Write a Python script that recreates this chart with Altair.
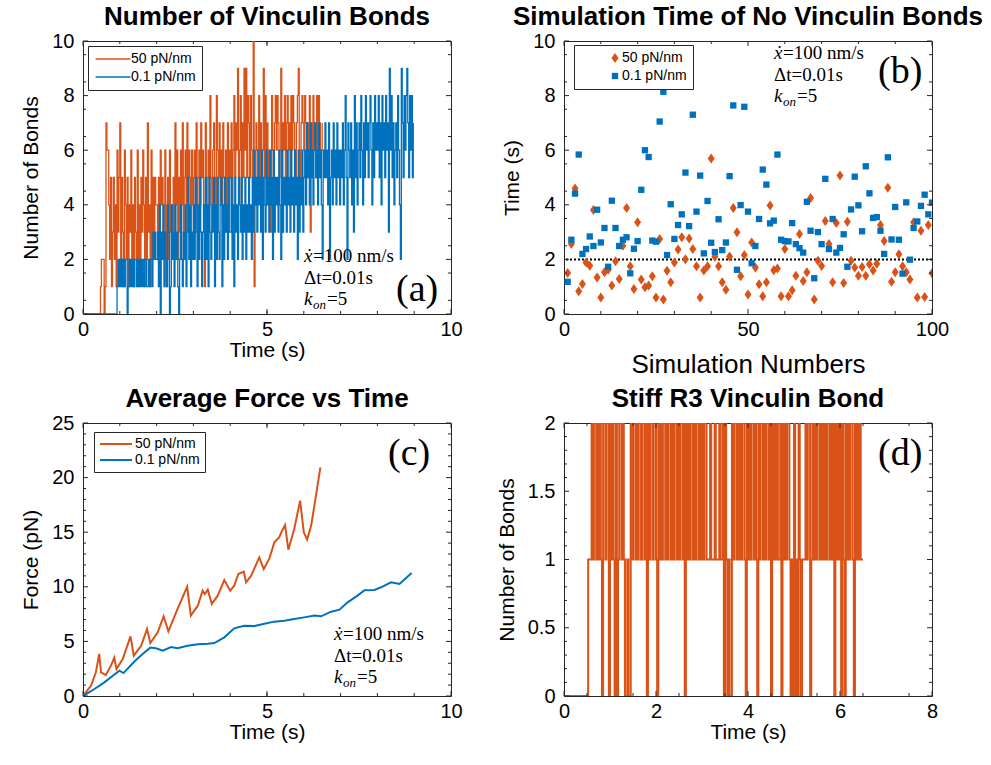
import altair as alt
import pandas as pd

ORANGE = "#D95319"
BLUE = "#0072BD"
INK = "#262626"
FONT = "Liberation Sans"
SERIF = "Liberation Serif"
W, H = 368, 273
SERIES = ["50 pN/nm", "0.1 pN/nm"]

# ---------- (a) number of vinculin bonds, one hex digit per 0.025 s sample ----------
DT = 0.025
BONDS_50 = (
    "0000000000000000000" "122201" "766425135241635"
    "7253164251" "4362415326" "1425364152" "7341625354"
    "4253645236" "1452634253" "7462536472" "5637465364"
    "5647356475" "6417356485" "4675386574" "6475364756"
    "5746857695" "6847596958" "75865a1476" "6857469584"
    "7564386578" "6875693768" "5786758687" "6578965787"
    "687576837586758687567"
)
BONDS_01 = (
    "0000000000" "0000000000" "0000000000" "0000000121"
    "2121212201" "2121212212" "1212121221" "1212213232"
    "2314032413" "2143014231" "4231024213" "2413524132"
    "4253142531" "3425241532" "4351425324" "5142534253"
    "3524153425" "4352435243" "5342536453" "6453625436"
    "4536452635" "4536426354" "5364536453" "6452635463"
    "5647564756" "4675647564" "2657564725" "6475647564"
    "6574685276" "5746385746" "7586475867" "5786475867"
    "6857486758" "6739685746" "7586429758" "6897586857"
)

# ---------- (b) simulation time with no vinculin bonds ----------
SIM_NO = list(range(1, 101))
TIME_50 = [1.50, 2.56, 4.60, 0.83, 1.10, 1.89, 1.77, 3.81, 1.34, 0.60,
           1.53, 1.62, 1.04, 1.93, 1.28, 2.50, 3.88, 1.75, 0.92, 3.36,
           1.26, 0.98, 1.04, 1.38, 0.60, 2.75, 0.53, 1.58, 1.16, 1.89,
           2.36, 2.81, 2.01, 2.77, 2.38, 1.75, 0.60, 1.59, 1.75, 5.70,
           2.10, 1.75, 1.16, 0.89, 2.11, 3.88, 2.99, 1.38, 2.16, 0.71,
           2.62, 1.70, 1.09, 0.65, 1.16, 3.97, 1.60, 1.67, 0.65, 2.38,
           0.65, 0.87, 1.40, 2.93, 1.21, 1.53, 4.25, 0.53, 1.95, 1.76,
           3.41, 2.56, 1.16, 3.33, 5.07, 1.14, 3.38, 1.95, 1.70, 1.40,
           1.72, 1.40, 1.82, 1.59, 1.84, 3.26, 2.67, 4.62, 1.18, 1.53,
           2.19, 1.75, 1.53, 1.26, 3.36, 0.60, 3.05, 0.62, 3.26, 1.49]
TIME_01 = [1.18, 2.72, 4.41, 5.84, 2.20, 2.38, 2.84, 2.49, 3.82, 2.62,
           3.15, 1.73, 4.15, 3.15, 2.49, 2.72, 2.81, 1.49, 2.39, 2.67,
           4.55, 6.00, 5.75, 2.69, 2.65, 7.05, 8.14, 2.16, 4.02, 2.75,
           3.26, 3.65, 5.18, 3.22, 7.30, 3.75, 5.07, 2.22, 4.14, 2.61,
           2.27, 3.47, 2.34, 2.62, 5.05, 7.64, 1.62, 3.99, 7.59, 3.75,
           1.86, 2.49, 3.48, 5.29, 4.74, 3.32, 3.42, 5.84, 2.72, 2.67,
           2.66, 3.33, 2.56, 2.41, 2.25, 4.11, 3.05, 1.31, 3.00, 2.56,
           4.95, 2.38, 3.48, 2.25, 2.42, 2.92, 1.73, 3.83, 5.03, 3.98,
           3.03, 5.41, 4.42, 3.52, 3.55, 3.05, 2.20, 5.74, 2.73, 3.92,
           2.72, 1.48, 4.09, 1.99, 3.15, 3.39, 3.96, 4.37, 3.65, 4.08]
THRESHOLD = [2.0]

# ---------- (c) average force vs time ----------
T_F50 = [0.00, 0.22, 0.35, 0.44, 0.49, 0.62, 0.76, 0.85, 0.91, 1.08, 1.29, 1.38,
         1.58, 1.74, 1.83, 2.03, 2.19, 2.32, 2.57, 2.83, 2.93, 3.12, 3.25, 3.31,
         3.39, 3.50, 3.66, 3.84, 4.00, 4.11, 4.22, 4.37, 4.43, 4.57, 4.79, 4.91,
         5.06, 5.20, 5.33, 5.41, 5.49, 5.58, 5.74, 5.90, 6.00, 6.09, 6.20, 6.33, 6.45]
F_50 = [0.00, 0.95, 2.17, 3.85, 2.17, 1.92, 2.78, 3.50, 2.47, 3.39, 5.46, 3.69,
        4.60, 6.13, 4.85, 5.83, 7.30, 5.92, 7.97, 10.0, 7.36, 8.27, 9.65, 9.34,
        9.74, 8.43, 9.19, 10.62, 9.65, 10.10, 11.17, 11.39, 10.41, 11.02, 12.70, 11.63,
        12.55, 14.07, 14.53, 15.14, 15.66, 13.40, 15.29, 17.89, 14.99, 14.32, 15.60, 18.35, 20.94]
T_F01 = [0.00, 0.31, 0.58, 0.81, 0.99, 1.10, 1.39, 1.62, 1.83, 1.98, 2.17, 2.39,
         2.57, 2.84, 3.12, 3.39, 3.57, 3.84, 4.11, 4.38, 4.66, 4.93, 5.20, 5.47,
         5.74, 6.01, 6.29, 6.47, 6.74, 6.97, 7.19, 7.46, 7.65, 7.92, 8.14, 8.37,
         8.60, 8.93]
F_01 = [0.00, 0.64, 1.25, 1.86, 2.32, 2.10, 3.14, 3.85, 4.43, 4.37, 4.15, 4.49,
        4.37, 4.61, 4.73, 4.79, 4.85, 5.37, 6.20, 6.44, 6.41, 6.62, 6.81, 6.90,
        7.05, 7.20, 7.36, 7.30, 7.72, 7.91, 8.58, 9.19, 9.68, 9.71, 10.01, 10.41,
        10.26, 11.26]

# ---------- (d) stiff R3 vinculin bond, one digit per 0.025 s sample ----------
BONDS_R3 = (
    "000000000000000000000" "111" "2122121210221220"
    "2121" "0201" "22121" "00100" "212212" "12212212" "0" "2122122"
    "1" "0" "21212212122121221212212" "0" "21212212122121"
    "21221" "112111211121" "12" "0" "21" "0100" "212212121221" "0" "2"
    "12122121" "0" "21221212212" "0" "21212112" "0" "2121221" "010"
    "2010210" "111" "2122" "0" "12121221212121221212" "0" "2121"
    "202102121221021212111"
)


def steps(code, label):
    vals = [int(c, 16) for c in code]
    return pd.DataFrame({"x": [i * DT for i in range(len(vals))], "y": vals, "series": label})


def tick_layers(xmaj, xmin, ymaj, ymin, big=5, small=3):
    out = []
    for vals, ln in ((xmaj, big), (xmin, small)):
        base = alt.Chart(pd.DataFrame({"x": vals})).mark_rule(color=INK, strokeWidth=1)
        out.append(base.encode(x="x:Q", y=alt.value(H), y2=alt.value(H - ln)))
        out.append(base.encode(x="x:Q", y=alt.value(0), y2=alt.value(ln)))
    for vals, ln in ((ymaj, big), (ymin, small)):
        base = alt.Chart(pd.DataFrame({"y": vals})).mark_rule(color=INK, strokeWidth=1)
        out.append(base.encode(y="y:Q", x=alt.value(0), x2=alt.value(ln)))
        out.append(base.encode(y="y:Q", x=alt.value(W - ln), x2=alt.value(W)))
    return out


def txt(s, x, y, size=19, style="normal"):
    return alt.Chart(pd.DataFrame({"k": [0]})).mark_text(
        align="left", baseline="alphabetic", font=SERIF, fontSize=size,
        fontStyle=style, color="black"
    ).encode(x=alt.value(x), y=alt.value(y), text=alt.value(s))


def annot(x, y, lh=21.5):
    """x-dot / Delta t / k_on lines, y is the first baseline."""
    return [
        txt("ẋ", x, y, style="italic"),
        txt("=100 nm/s", x + 9, y),
        txt("Δt=0.01s", x, y + lh),
        txt("k", x, y + 2 * lh, style="italic"),
        txt("on", x + 9, y + 2 * lh + 4, size=13, style="italic"),
        txt("=5", x + 23, y + 2 * lh),
    ]


def tag(s, x, y):
    return txt(s, x, y, size=38)


FMT = ".1~f"


def line_legend(lx, ly, sw, path, size, soff, loff, rowpad=4, pad=6):
    return alt.Legend(title=None, orient="none", legendX=lx, legendY=ly, direction="vertical",
                      strokeColor=INK, fillColor="white", padding=pad, rowPadding=rowpad,
                      symbolType=path, symbolSize=size, symbolStrokeWidth=sw,
                      symbolOffset=soff, labelOffset=loff,
                      labelFont=FONT, labelFontSize=14, labelColor="black")


COLOR_SCALE = alt.Scale(domain=SERIES, range=[ORANGE, BLUE])
SHAPE_SCALE = alt.Scale(domain=SERIES, range=["M0,-1L0.7,0L0,1L-0.7,0Z", "square"])
SIZE_SCALE = alt.Scale(domain=SERIES, range=[100, 40])

# ---------- panel (a) ----------
df_a = pd.concat([steps(BONDS_50, SERIES[0]), steps(BONDS_01, SERIES[1])], ignore_index=True)
lines_a = alt.Chart(df_a).mark_line(interpolate="step-after", strokeWidth=1.3, clip=True).encode(
    x=alt.X("x:Q", scale=alt.Scale(domain=[0, 10], nice=False),
            axis=alt.Axis(values=[0, 5, 10], title="Time (s)", format=FMT)),
    y=alt.Y("y:Q", scale=alt.Scale(domain=[0, 10], nice=False),
            axis=alt.Axis(values=[0, 2, 4, 6, 8, 10], title="Number of Bonds", format=FMT)),
    color=alt.Color("series:N", scale=COLOR_SCALE, sort=SERIES,
                    legend=line_legend(5, 5, 1.3, "M-4,0H4", 76, 12, 11)),
)
panel_a = alt.layer(
    lines_a, *tick_layers([0, 5, 10], list(range(1, 10)), [0, 2, 4, 6, 8, 10], [x / 2 for x in range(1, 20, 2)]),
    *annot(221, 221), tag("(a)", 313, 260),
).properties(width=W, height=H, title="Number of Vinculin Bonds")

# ---------- panel (b) ----------
df_b = pd.concat([
    pd.DataFrame({"x": SIM_NO, "y": TIME_50, "series": SERIES[0]}),
    pd.DataFrame({"x": SIM_NO, "y": TIME_01, "series": SERIES[1]}),
], ignore_index=True)
pts_b = alt.Chart(df_b).mark_point(filled=True, opacity=1, clip=True).encode(
    x=alt.X("x:Q", scale=alt.Scale(domain=[0, 100], nice=False),
            axis=alt.Axis(values=[0, 50, 100], title="Simulation Numbers", format=FMT,
                          titleFontSize=26, titlePadding=12)),
    y=alt.Y("y:Q", scale=alt.Scale(domain=[0, 10], nice=False),
            axis=alt.Axis(values=[0, 2, 4, 6, 8, 10], title="Time (s)", format=FMT)),
    color=alt.Color("series:N", scale=COLOR_SCALE, sort=SERIES,
                    legend=alt.Legend(title=None, orient="none", legendX=10, legendY=4, direction="vertical",
                                      strokeColor=INK, fillColor="white", padding=6, rowPadding=4,
                                      symbolOffset=28, labelOffset=0,
                                      labelFont=FONT, labelFontSize=14, labelColor="black")),
    shape=alt.Shape("series:N", sort=SERIES, scale=SHAPE_SCALE),
    size=alt.Size("series:N", sort=SERIES, scale=SIZE_SCALE),
)
thr = alt.Chart(pd.DataFrame({"y": THRESHOLD})).mark_rule(
    color="black", strokeWidth=2, strokeDash=[2, 2]).encode(y="y:Q")
panel_b = alt.layer(
    thr, pts_b,
    *tick_layers([0, 50, 100], [10, 20, 30, 40, 60, 70, 80, 90], [0, 2, 4, 6, 8, 10], [x / 2 for x in range(1, 20, 2)]),
    *annot(210, 18), tag("(b)", 314, 42),
).properties(width=W, height=H, title="Simulation Time of No Vinculin Bonds")

# ---------- panel (c) ----------
df_c = pd.concat([
    pd.DataFrame({"x": T_F50, "y": F_50, "series": SERIES[0]}),
    pd.DataFrame({"x": T_F01, "y": F_01, "series": SERIES[1]}),
], ignore_index=True)
lines_c = alt.Chart(df_c).mark_line(strokeWidth=2, clip=True).encode(
    x=alt.X("x:Q", scale=alt.Scale(domain=[0, 10], nice=False),
            axis=alt.Axis(values=[0, 5, 10], title="Time (s)", format=FMT)),
    y=alt.Y("y:Q", scale=alt.Scale(domain=[0, 25], nice=False),
            axis=alt.Axis(values=[0, 5, 10, 15, 20, 25], title="Force (pN)", format=FMT)),
    color=alt.Color("series:N", scale=COLOR_SCALE, sort=SERIES,
                    legend=line_legend(11, 9, 2, "M-4,0H4", 64, 10, 12, rowpad=2, pad=5)),
)
panel_c = alt.layer(
    lines_c, *tick_layers([0, 5, 10], list(range(1, 10)), [0, 5, 10, 15, 20, 25],
                          [v for v in range(1, 25) if v % 5]),
    *annot(251, 217), tag("(c)", 305, 42),
).properties(width=W, height=H, title="Average Force vs Time")

# ---------- panel (d) ----------
df_d = steps(BONDS_R3, SERIES[0])
lines_d = alt.Chart(df_d).mark_line(interpolate="step-after", strokeWidth=2, color=ORANGE, clip=True).encode(
    x=alt.X("x:Q", scale=alt.Scale(domain=[0, 8], nice=False),
            axis=alt.Axis(values=[0, 2, 4, 6, 8], title="Time (s)", format=FMT)),
    y=alt.Y("y:Q", scale=alt.Scale(domain=[0, 2], nice=False),
            axis=alt.Axis(values=[0, 0.5, 1, 1.5, 2], title="Number of Bonds", format=FMT)),
)
panel_d = alt.layer(
    lines_d, *tick_layers([0, 2, 4, 6, 8], [x / 2 for x in range(1, 16, 2)], [0, 0.5, 1, 1.5, 2],
                          [v / 10 for v in range(1, 20) if v % 5]),
    tag("(d)", 314, 42),
).properties(width=W, height=H, title="Stiff R3 Vinculin Bond")

chart = alt.concat(
    panel_a, panel_b, panel_c, panel_d, columns=2,
    spacing={"row": 109, "column": 113}, bounds="flush",
).resolve_scale(color="independent", shape="independent", size="independent", x="independent", y="independent"
).resolve_legend(color="independent", shape="independent", size="independent"
).properties(padding={"left": 20, "top": 3, "right": 5, "bottom": 5}, background="white"
).configure_view(stroke=INK, strokeWidth=1
).configure_axis(
    grid=False, ticks=False, tickSize=0, domain=False, labelFlush=False,
    labelFont=FONT, labelFontSize=20, labelColor="black",
    titleFont=FONT, titleFontSize=21, titleFontWeight="normal", titleColor="black",
).configure_axisX(labelPadding=5, titlePadding=0
).configure_axisY(labelPadding=9, titlePadding=10
).configure_title(font=FONT, fontSize=26, fontWeight="bold", color="black", anchor="middle", offset=1)

chart.save("out.html", embed_options={"renderer": "svg", "actions": False})
